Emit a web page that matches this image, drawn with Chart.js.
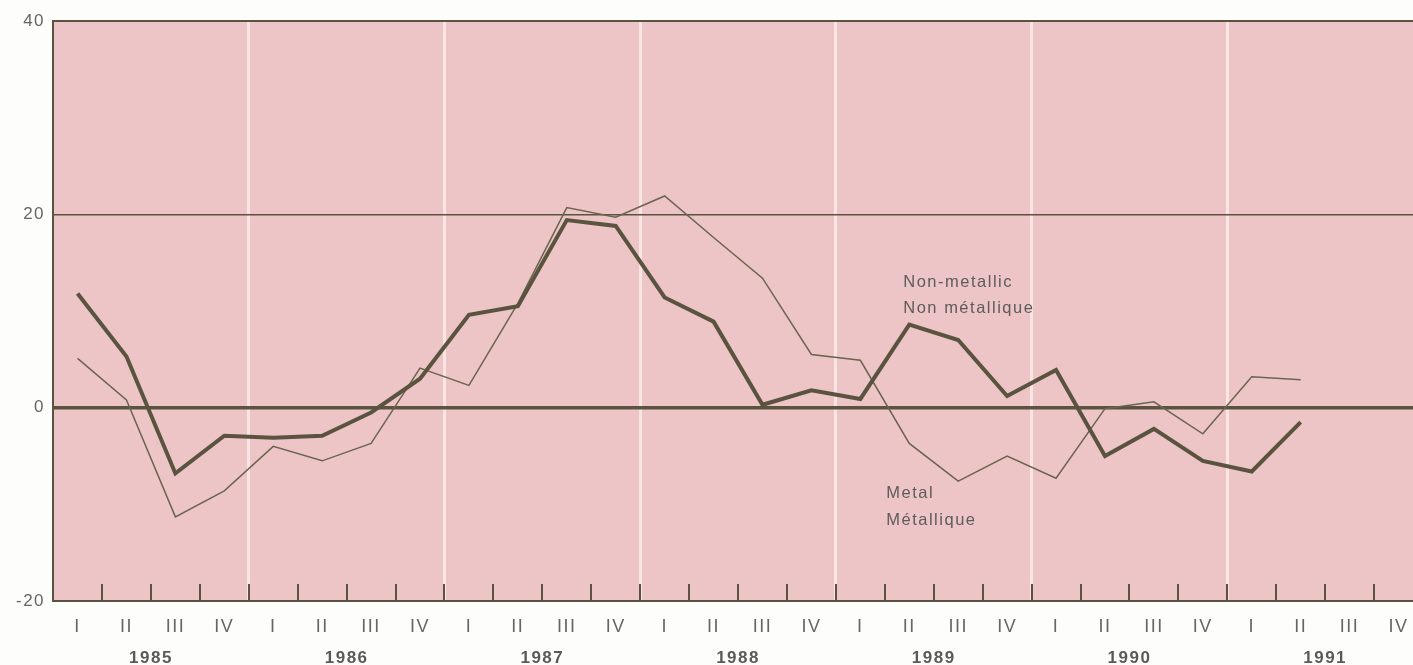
<!DOCTYPE html>
<html>
<head>
<meta charset="utf-8">
<script src="https://cdn.jsdelivr.net/npm/chart.js@4/dist/chart.umd.min.js"></script>
<style>
    html, body { margin: 0; padding: 0; background: #fdfdfc; overflow: hidden; }
    #wrap { position: relative; width: 1423px; height: 665px; }
</style>
</head>
<body>
<div id="wrap"><canvas id="chart"></canvas></div>
<script>
(function () {
    'use strict';

    // quarters 1985 I .. 1991 IV
    const quarters = [
        'I', 'II', 'III', 'IV', 'I', 'II', 'III', 'IV',
        'I', 'II', 'III', 'IV', 'I', 'II', 'III', 'IV',
        'I', 'II', 'III', 'IV', 'I', 'II', 'III', 'IV',
        'I', 'II', 'III', 'IV'
    ];
    const years = ['1985', '1986', '1987', '1988', '1989', '1990', '1991'];
    const yTicks = [-20, 0, 20, 40];

    // % change
    const nonMetallic = [11.8, 5.3, -6.8, -2.9, -3.1, -2.9, -0.5, 3.0,
                         9.6, 10.5, 19.4, 18.8, 11.4, 8.9, 0.3, 1.8,
                         0.9, 8.6, 7.0, 1.2, 3.9, -5.0, -2.2, -5.5,
                         -6.6, -1.5, null, null];
    const metal       = [5.1, 0.8, -11.3, -8.6, -4.0, -5.5, -3.7, 4.1,
                         2.3, 10.8, 20.7, 19.7, 21.9, 17.6, 13.4, 5.5,
                         4.9, -3.7, -7.6, -5.0, -7.3, -0.1, 0.6, -2.7,
                         3.2, 2.9, null, null];

    const PINK  = '#eec5c7';
    const DARK  = '#59533f';
    const TEXT  = '#5c5c58';
    const FONT  = '"Liberation Sans", Arial, sans-serif';
    const NONE  = 'rgba(0,0,0,0)';

    // the print uses tracked-out type
    const tracking = {
        id: 'tracking',
        beforeUpdate(chart) { chart.ctx.letterSpacing = '1.5px'; },
        beforeDraw(chart) { chart.ctx.letterSpacing = '1.5px'; }
    };

    // pink plot background
    const plotBg = {
        id: 'plotBg',
        beforeDraw(chart) {
            const a = chart.chartArea, ctx = chart.ctx;
            ctx.save();
            ctx.fillStyle = PINK;
            ctx.fillRect(a.left, a.top, a.right - a.left, a.bottom - a.top);
            ctx.restore();
        }
    };

    // short tick marks standing up from the bottom axis, between quarters
    const innerTicks = {
        id: 'innerTicks',
        afterDatasetsDraw(chart) {
            const x = chart.scales.x, a = chart.chartArea, ctx = chart.ctx;
            ctx.save();
            ctx.strokeStyle = DARK;
            ctx.lineWidth = 2;
            for (let i = 1; i < quarters.length; i++) {
                const px = Math.round((x.getPixelForValue(i - 1) + x.getPixelForValue(i)) / 2);
                ctx.beginPath();
                ctx.moveTo(px, a.bottom - 17);
                ctx.lineTo(px, a.bottom);
                ctx.stroke();
            }
            ctx.restore();
        }
    };

    // series captions
    const captions = {
        id: 'captions',
        afterDatasetsDraw(chart) {
            const x = chart.scales.x, y = chart.scales.y, ctx = chart.ctx;
            ctx.save();
            ctx.fillStyle = TEXT;
            ctx.font = '16.5px ' + FONT;
            ctx.letterSpacing = '1.5px';
            ctx.textBaseline = 'middle';
            ctx.textAlign = 'left';
            const nx = x.getPixelForValue(17) - 6;
            ctx.fillText('Non-metallic', nx, y.getPixelForValue(13.0));
            ctx.fillText('Non métallique', nx, y.getPixelForValue(10.3));
            const mx = x.getPixelForValue(17) - 23;
            ctx.fillText('Metal', mx, y.getPixelForValue(-8.9));
            ctx.fillText('Métallique', mx, y.getPixelForValue(-11.7));
            ctx.restore();
        }
    };

    new Chart(document.getElementById('chart'), {
        type: 'line',
        data: {
            labels: quarters,
            datasets: [
                {
                    label: 'Non-metallic',
                    data: nonMetallic,
                    borderColor: DARK,
                    borderWidth: 4,
                    pointRadius: 0,
                    tension: 0,
                },
                {
                    label: 'Metal',
                    data: metal,
                    borderColor: '#6a6450',
                    borderWidth: 1.5,
                    pointRadius: 0,
                    tension: 0,
                },
            ],
        },
        options: {
            responsive: true,
            maintainAspectRatio: false,
            animation: false,
            layout: { padding: { left: 8, top: 21, right: 0, bottom: -2 } },
            plugins: {
                legend: { display: false },
                tooltip: { enabled: false },
            },
            scales: {
                x: {
                    type: 'category',
                    offset: true,
                    position: 'bottom',
                    grid: {
                        offset: true,
                        drawTicks: true,
                        tickLength: 17,
                        tickColor: NONE,
                        color: ctx => (ctx.index % 4 === 0 && ctx.index > 0 && ctx.index < quarters.length)
                            ? 'rgba(255,242,242,0.7)' : NONE,
                        lineWidth: 3,
                    },
                    border: { display: true, color: DARK, width: 2 },
                    ticks: {
                        autoSkip: false,
                        maxRotation: 0,
                        color: '#666660',
                        padding: 0,
                        font: { family: FONT, size: 18, lineHeight: 1 },
                    },
                },
                xYear: {
                    type: 'category',
                    labels: years,
                    offset: true,
                    position: 'bottom',
                    grid: {
                        display: true,
                        drawOnChartArea: false,
                        drawTicks: true,
                        tickLength: 14,
                        tickColor: NONE,
                        color: NONE,
                    },
                    border: { display: false },
                    ticks: {
                        autoSkip: false,
                        maxRotation: 0,
                        color: '#5a5a56',
                        padding: 0,
                        font: { family: FONT, size: 17, weight: 'bold', lineHeight: 1 },
                    },
                },
                y: {
                    min: -20,
                    max: 40,
                    afterBuildTicks: axis => { axis.ticks = yTicks.map(v => ({ value: v })); },
                    grid: {
                        drawTicks: false,
                        color: ctx => (ctx.tick && ctx.tick.value === -20) ? NONE : DARK,
                        lineWidth: ctx => (ctx.tick && ctx.tick.value === 0) ? 3.5
                            : (ctx.tick && ctx.tick.value === 40) ? 2 : 1.5,
                    },
                    border: { display: true, color: DARK, width: 2 },
                    ticks: {
                        color: '#666660',
                        padding: 8,
                        font: { family: FONT, size: 17 },
                    },
                },
            },
        },
        plugins: [tracking, plotBg, innerTicks, captions],
    });
})();
</script>
</body>
</html>
